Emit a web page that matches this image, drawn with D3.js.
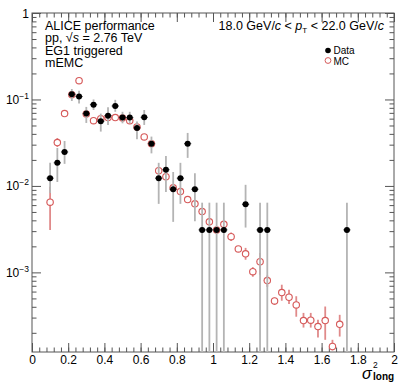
<!DOCTYPE html>
<html>
<head>
<meta charset="utf-8">
<script src="https://cdn.jsdelivr.net/npm/d3@7"></script>
<style>
body{margin:0;background:#fff;}
text{font-family:"Liberation Sans",Arial,Helvetica,sans-serif;fill:#000;}
</style>
</head>
<body>
<div class="chart"></div>
<script>
// bin centres (width 0.04) and values
const dataX  = [0.10,0.14,0.18,0.22,0.26,0.30,0.34,0.38,0.42,0.46,0.50,0.54,0.58,0.62,0.66,0.70,0.74,0.78,0.82,0.86,0.90,0.94,0.98,1.02,1.06,1.18,1.26,1.30,1.74];
const dataY  = [0.0123,0.0185,0.0247,0.115,0.108,0.0686,0.087,0.056,0.065,0.084,0.0617,0.0617,0.0469,0.0622,0.0308,0.0123,0.0154,0.00916,0.0123,0.0308,0.00916,0.0031,0.0031,0.0031,0.0031,0.00614,0.0031,0.0031,0.0031];
const dataHi = [0.0185,0.0275,0.0331,0.132,0.126,0.082,0.100,0.0686,0.081,0.099,0.072,0.072,0.0555,0.0755,0.0372,0.0185,0.0222,0.0145,0.0185,0.041,0.014,0.0064,0.0064,0.0064,0.0064,0.0103,0.0064,0.0064,0.0064];
const dataLo = [0.0083,0.0111,0.018,0.096,0.090,0.0535,0.0756,0.0425,0.0507,0.072,0.053,0.053,0.0346,0.0507,0.0238,0.0062,0.0085,0.00384,0.0062,0.0211,0.0039,0,0,0,0,0.0033,0,0,0];

const mcX  = [0.10,0.14,0.18,0.22,0.26,0.30,0.34,0.38,0.42,0.46,0.50,0.54,0.58,0.62,0.66,0.70,0.74,0.78,0.82,0.86,0.90,0.94,0.98,1.02,1.06,1.10,1.14,1.18,1.22,1.26,1.30,1.34,1.38,1.42,1.46,1.50,1.54,1.58,1.62,1.66,1.70];
const mcY  = [0.00648,0.0317,0.0686,0.113,0.165,0.068,0.0569,0.060,0.062,0.0617,0.061,0.0569,0.048,0.0369,0.0308,0.015,0.0128,0.0095,0.0086,0.00695,0.0062,0.00505,0.00384,0.0031,0.0036,0.00259,0.00187,0.00164,0.00102,0.00133,0.000804,0.000468,0.000584,0.000516,0.00042,0.000277,0.00028,0.000236,0.000277,0.000139,0.000251];
const mcHi = [0.0098,0.0358,0.073,0.119,0.172,0.071,0.059,0.0625,0.0645,0.064,0.0635,0.059,0.050,0.0385,0.0322,0.0158,0.0135,0.0101,0.0092,0.0075,0.0067,0.0055,0.0042,0.0034,0.0040,0.0029,0.0020,0.00192,0.00115,0.00168,0.00092,0.00051,0.00072,0.00063,0.00053,0.00034,0.00034,0.000283,0.000403,0.000166,0.000323];
const mcLo = [0.0031,0.0282,0.064,0.107,0.158,0.065,0.0545,0.0575,0.0595,0.059,0.0585,0.0545,0.046,0.0353,0.0294,0.0142,0.0121,0.0089,0.0080,0.0064,0.0057,0.0046,0.0035,0.0028,0.0032,0.0023,0.00175,0.0014,0.00089,0.00094,0.00068,0.00042,0.00047,0.00043,0.000307,0.00023,0.00023,0.000177,0.000166,0.000125,0.000181];

const xTicks = [0,0.2,0.4,0.6,0.8,1,1.2,1.4,1.6,1.8,2];
const xMinor = d3.range(0, 2.001, 0.04);
const yTicks = [1e-3,1e-2,1e-1,1];
const yLabels = [["10","−3"],["10","−2"],["10","−1"],["1",""]];
const binHalf = 0.02;

const svg_width = 399, svg_height = 385;
const margin = {top:13,right:5,bottom:33,left:32};
const width = svg_width - margin.left - margin.right;
const height = svg_height - margin.top - margin.bottom;

const svg = d3.select('.chart').append('svg').attr('width',svg_width).attr('height',svg_height);
const g = svg.append('g').attr('transform',`translate(${margin.left},${margin.top})`);

const x = d3.scaleLinear().domain([0,2]).range([0,width]);
const y = d3.scaleLog().domain([1.2e-4,1]).range([height,0]);
const yc = v => y(Math.max(v, y.domain()[0]));

// minor log ticks 2..9 x decade
const yMinor = [];
[-4,-3,-2,-1].forEach(e => { for(let k=2;k<=9;k++){ const v=k*Math.pow(10,e); if(v>=y.domain()[0] && v<1) yMinor.push(v);} });

const axisColor = '#555';
function styleAxis(sel){
  sel.select('.domain').remove();
  sel.selectAll('.tick line').attr('stroke',axisColor);
}

// x axes (ticks inside the frame)
g.append('g').attr('transform',`translate(0,${height})`)
  .call(d3.axisBottom(x).tickValues(xMinor).tickSizeInner(-4.5).tickSizeOuter(0).tickFormat(''))
  .call(styleAxis);
const xAx = g.append('g').attr('transform',`translate(0,${height})`)
  .call(d3.axisBottom(x).tickValues(xTicks).tickSizeInner(-9).tickSizeOuter(0).tickPadding(3).tickFormat(d3.format('')))
  .call(styleAxis);
xAx.selectAll('text').attr('font-size',12).attr('fill','#000');
g.append('g')
  .call(d3.axisTop(x).tickValues(xMinor).tickSizeInner(-4.5).tickSizeOuter(0).tickFormat(''))
  .call(styleAxis);
g.append('g')
  .call(d3.axisTop(x).tickValues(xTicks).tickSizeInner(-9).tickSizeOuter(0).tickFormat(''))
  .call(styleAxis);

// y axes
g.append('g').call(d3.axisLeft(y).tickValues(yMinor).tickSizeInner(-4.5).tickSizeOuter(0).tickFormat('')).call(styleAxis);
g.append('g').call(d3.axisLeft(y).tickValues(yTicks).tickSizeInner(-9).tickSizeOuter(0).tickFormat('')).call(styleAxis);
g.append('g').attr('transform',`translate(${width},0)`).call(d3.axisRight(y).tickValues(yMinor).tickSizeInner(-4.5).tickSizeOuter(0).tickFormat('')).call(styleAxis);
g.append('g').attr('transform',`translate(${width},0)`).call(d3.axisRight(y).tickValues(yTicks).tickSizeInner(-9).tickSizeOuter(0).tickFormat('')).call(styleAxis);

// y tick labels with exponents
const yl = g.append('g').attr('class','ylabels');
yTicks.forEach((t,i) => {
  const lab = yLabels[i];
  const tx = yl.append('text').attr('x',-3).attr('y',y(t)+4.5).attr('text-anchor','end').attr('font-size',12);
  if(lab[1]){
    tx.append('tspan').text(lab[0]);
    tx.append('tspan').attr('font-size',8.5).attr('dy',-5).text(lab[1]);
  } else {
    tx.text(lab[0]);
  }
});

// frame
g.append('rect').attr('width',width).attr('height',height).attr('fill','none').attr('stroke',axisColor).attr('stroke-width',1);

const plot = g.append('g');
const mcCol = '#d65a5a', mcBar = '#e08a8a', dataBar = '#b4b4b4';

// MC: error bars and open circles
const mc = mcX.map((d,i)=>({x:d,y:mcY[i],lo:mcLo[i],hi:mcHi[i]}));
plot.selectAll('.mcerr').data(mc).join('line').attr('class','mcerr')
  .attr('x1',d=>x(d.x)).attr('x2',d=>x(d.x))
  .attr('y1',d=>yc(d.lo)).attr('y2',d=>yc(d.hi))
  .attr('stroke',mcBar).attr('stroke-width',1.8);
plot.selectAll('.mcxerr').data(mc).join('line').attr('class','mcxerr')
  .attr('x1',d=>x(d.x-binHalf)).attr('x2',d=>x(d.x+binHalf))
  .attr('y1',d=>y(d.y)).attr('y2',d=>y(d.y))
  .attr('stroke',mcBar).attr('stroke-width',1);
plot.selectAll('.mc').data(mc).join('circle').attr('class','mc')
  .attr('cx',d=>x(d.x)).attr('cy',d=>y(d.y)).attr('r',3.2)
  .attr('fill','#fff').attr('stroke',mcCol).attr('stroke-width',1.1);

// Data: error bars and filled circles
const dat = dataX.map((d,i)=>({x:d,y:dataY[i],lo:dataLo[i],hi:dataHi[i]}));
plot.selectAll('.derr').data(dat).join('line').attr('class','derr')
  .attr('x1',d=>x(d.x)).attr('x2',d=>x(d.x))
  .attr('y1',d=>yc(d.lo)).attr('y2',d=>yc(d.hi))
  .attr('stroke',dataBar).attr('stroke-width',1.8);
plot.selectAll('.dxerr').data(dat).join('line').attr('class','dxerr')
  .attr('x1',d=>x(d.x-binHalf)).attr('x2',d=>x(d.x+binHalf))
  .attr('y1',d=>y(d.y)).attr('y2',d=>y(d.y))
  .attr('stroke','#444').attr('stroke-width',1);
plot.selectAll('.dat').data(dat).join('circle').attr('class','dat')
  .attr('cx',d=>x(d.x)).attr('cy',d=>y(d.y)).attr('r',3)
  .attr('fill','#000');

// texts
const info = ['ALICE performance', null, 'EG1 triggered', 'mEMC'];
svg.append('text').attr('x',45).attr('y',29.5).attr('font-size',12.5).text(info[0]);
const t1 = svg.append('text').attr('x',45).attr('y',42).attr('font-size',12.5);
t1.append('tspan').text('pp, √');
t1.append('tspan').attr('font-style','italic').text('s');
t1.append('tspan').text(' = 2.76 TeV');
svg.append('text').attr('x',45).attr('y',54.5).attr('font-size',12.5).text(info[2]);
svg.append('text').attr('x',45).attr('y',67).attr('font-size',12.5).text(info[3]);

const pt = svg.append('text').attr('x',384).attr('y',29.5).attr('text-anchor','end').attr('font-size',12.5);
pt.append('tspan').text('18.0 GeV/');
pt.append('tspan').attr('font-style','italic').text('c');
pt.append('tspan').text(' < ');
pt.append('tspan').attr('font-style','italic').text('p');
pt.append('tspan').attr('font-size',8).attr('dy',3).text('T');
pt.append('tspan').attr('dy',-3).text(' < 22.0 GeV/');
pt.append('tspan').attr('font-style','italic').text('c');

// legend
svg.append('circle').attr('cx',328).attr('cy',50.5).attr('r',2.8).attr('fill','#000');
svg.append('text').attr('x',333.5).attr('y',54).attr('font-size',10).text('Data');
svg.append('circle').attr('cx',328).attr('cy',60.5).attr('r',2.9).attr('fill','#fff').attr('stroke',mcCol).attr('stroke-width',1);
svg.append('text').attr('x',333.5).attr('y',64.5).attr('font-size',10).text('MC');

// x title
svg.append('text').attr('x',362).attr('y',378.5).attr('font-size',16).attr('font-style','italic').text('σ');
svg.append('text').attr('x',373).attr('y',367.5).attr('font-size',8.5).text('2');
svg.append('text').attr('x',373).attr('y',380).attr('font-size',10).attr('font-weight','bold').text('long');
</script>
</body>
</html>
